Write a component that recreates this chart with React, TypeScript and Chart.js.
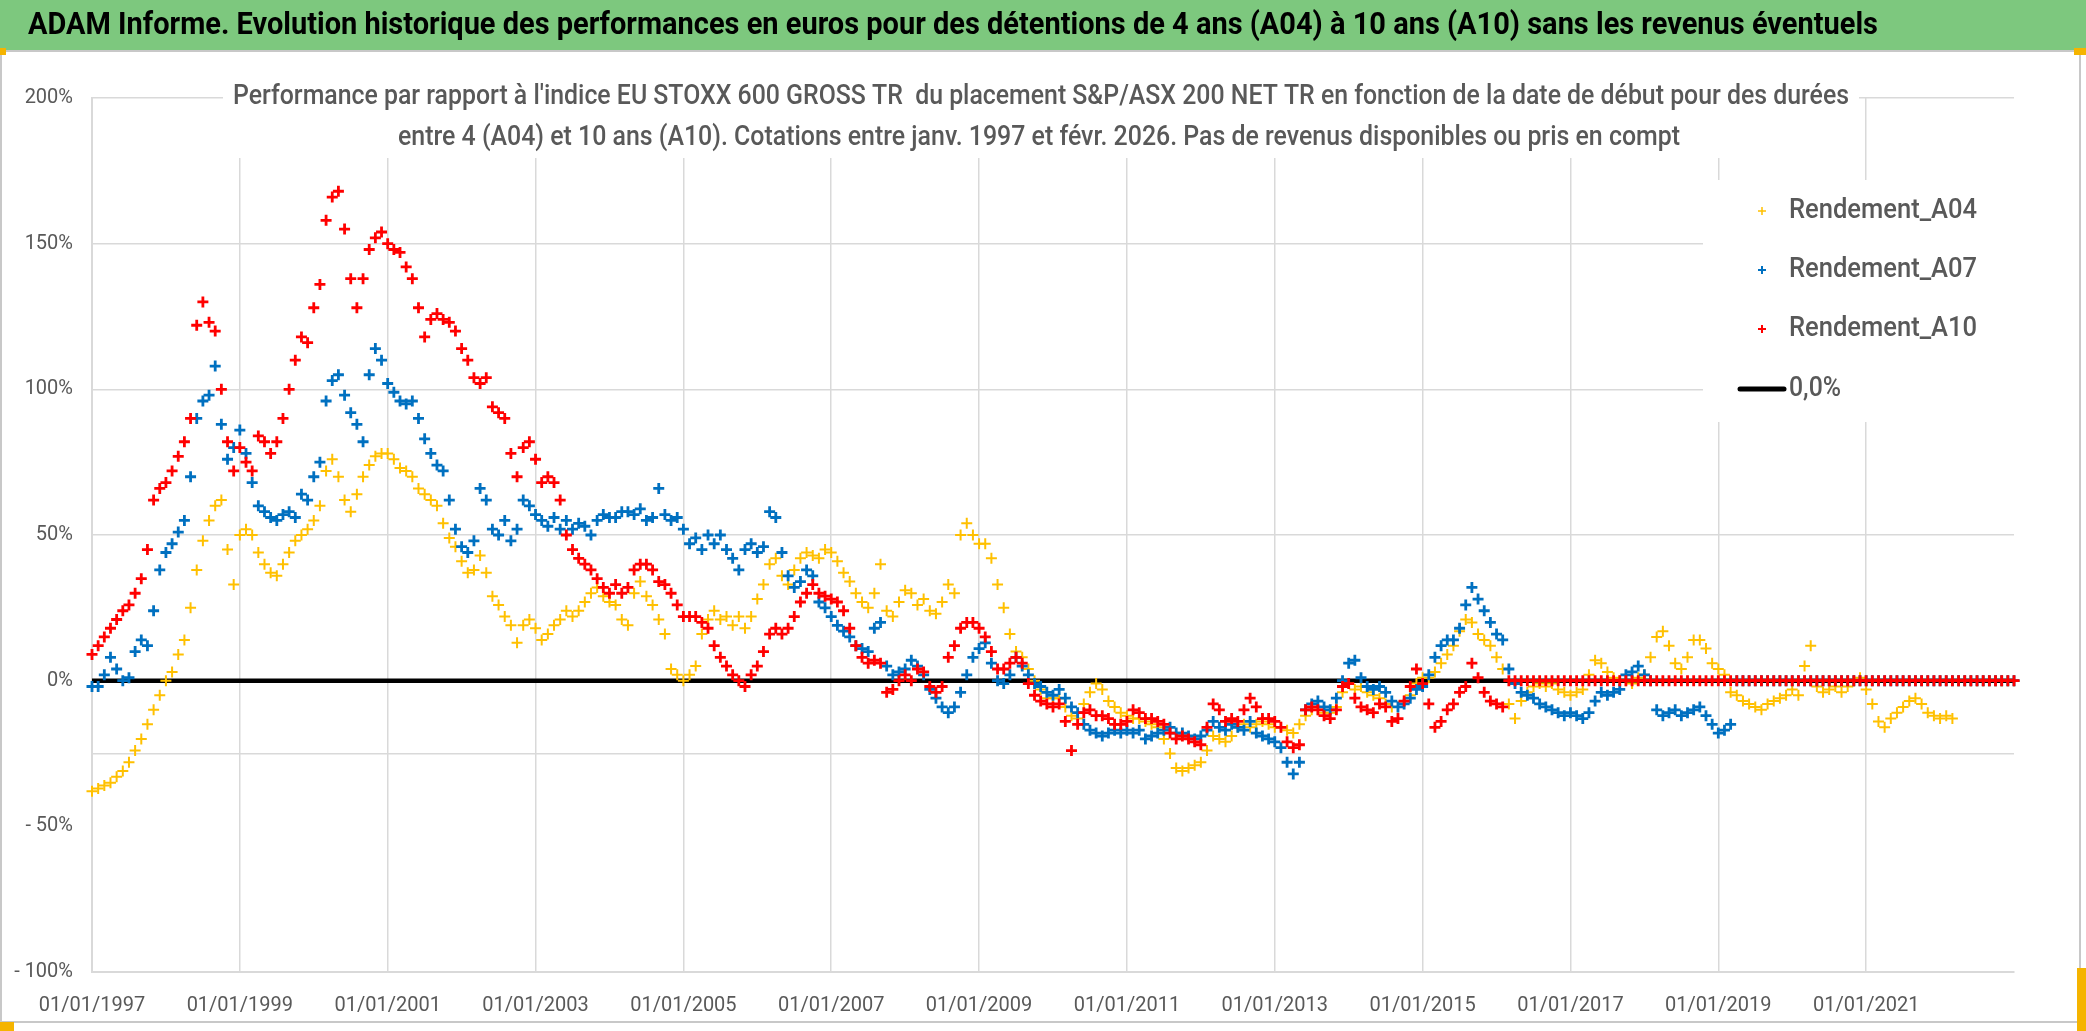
import React, { useEffect, useRef } from 'react';
import { Chart, registerables } from 'chart.js';

Chart.register(...registerables);

// ---- Data (monthly readings, first value = January 1997) ----
const START_YEAR = 1997;
const AXIS_MIN = 1997;
const AXIS_MAX = 2023;
const xTickYears = [1997, 1999, 2001, 2003, 2005, 2007, 2009, 2011, 2013, 2015, 2017, 2019, 2021];
const yTickValues = [200, 150, 100, 50, 0, -25, -50, -100];

const bannerTitle =
  'ADAM Informe. Evolution historique des performances en euros pour des détentions de 4 ans (A04) à 10 ans (A10) sans les revenus éventuels';
const chartTitleLines = [
  "Performance par rapport à l'indice EU STOXX 600 GROSS TR  du placement S&P/ASX 200 NET TR en fonction de la date de début pour des durées",
  'entre 4 (A04) et 10 ans (A10). Cotations entre janv. 1997 et févr. 2026. Pas de revenus disponibles ou pris en compt',
];
const seriesNames = ['Rendement_A04', 'Rendement_A07', 'Rendement_A10', '0,0%'];

const rendementA04 = [
  -38, -37, -36, -35, -33, -31, -28, -24, -20, -15, -10, -5,
  0, 3, 9, 14, 25, 38, 48, 55, 60, 62, 45, 33,
  50, 52, 50, 44, 40, 37, 36, 40, 44, 48, 50, 52,
  55, 60, 72, 76, 70, 62, 58, 64, 70, 74, 77, 78,
  78, 76, 73, 72, 70, 66, 64, 62, 60, 54, 49, 46,
  41, 37, 38, 43, 37, 29, 26, 22, 19, 13, 19, 21,
  18, 14, 16, 19, 21, 24, 22, 24, 27, 30, 32, 29,
  27, 26, 21, 19, 30, 34, 29, 26, 21, 16, 4, 2,
  0, 2, 5, 16, 21, 24, 21, 22, 19, 22, 18, 22,
  28, 33, 40, 42, 36, 33, 38, 42, 44, 43, 42, 45,
  44, 41, 37, 34, 30, 27, 25, 30, 40, 24, 22, 27,
  31, 30, 26, 28, 24, 23, 27, 33, 30, 50, 54, 50,
  47, 47, 42, 33, 25, 16, 10, 8, 4, 0, -3, -6,
  -6, -6, -9, -12, -13, -8, -4, -1, -3, -7, -9, -11,
  -12, -13, -13, -14, -15, -16, -20, -25, -30, -31, -30, -29,
  -28, -24, -19, -20, -21, -19, -16, -15, -16, -15, -14, -15,
  -16, -16, -17, -18, -15, -12, -10, -10, -11, -11, -9, -4,
  -1, -3, -2, -4, -5, -6, -8, -9, -9, -7, -5, -1,
  1, 1, 3, 6, 9, 12, 17, 21, 20, 16, 14, 12,
  8, 4, -8, -13, -7, -4, -2, -1, -2, -1, -3, -4,
  -5, -4, -3, 2, 7, 6, 3, 1, 0, 0, -1, 1,
  2, 8, 15, 17, 12, 6, 4, 8, 14, 14, 11, 6,
  4, 2, -4, -5, -7, -8, -9, -10, -8, -7, -6, -5,
  -3, -5, 5, 12, -2, -4, -3, -2, -4, -2, 0, 1,
  -3, -8, -14, -16, -13, -11, -9, -7, -6, -8, -11, -12,
  -13, -12, -13, 0, 0, 0, 0, 0, 0, 0, 0, 0,
  0,
];

const rendementA07 = [
  -2, -2, 2, 8, 4, 0, 1, 10, 14, 12, 24, 38,
  44, 47, 51, 55, 70, 90, 96, 98, 108, 88, 76, 80,
  86, 78, 68, 60, 58, 56, 55, 57, 58, 56, 64, 62,
  70, 75, 96, 103, 105, 98, 92, 88, 82, 105, 114, 110,
  102, 99, 96, 95, 96, 90, 83, 78, 74, 72, 62, 52,
  46, 44, 48, 66, 62, 52, 50, 55, 48, 52, 62, 60,
  57, 55, 53, 56, 52, 55, 52, 54, 53, 50, 55, 57,
  56, 56, 58, 58, 57, 59, 55, 56, 66, 57, 55, 56,
  52, 47, 49, 45, 50, 47, 50, 45, 42, 38, 45, 47,
  44, 46, 58, 56, 44, 36, 32, 34, 38, 36, 27, 25,
  22, 19, 17, 15, 12, 11, 10, 18, 20, 5, 2, 3,
  4, 7, 5, 2, -3, -6, -9, -11, -9, -4, 2, 8,
  11, 13, 6, 0, -1, 2, 8, 5, 2, -1, -2, -4,
  -5, -3, -6, -9, -11, -15, -17, -18, -19, -18, -17, -18,
  -17, -18, -17, -20, -19, -18, -17, -16, -18, -18, -19, -20,
  -19, -17, -14, -16, -17, -15, -16, -17, -14, -18, -19, -20,
  -21, -23, -28, -32, -28, -10, -8, -7, -9, -10, -6, 0,
  6, 7, 1, -2, -3, -2, -4, -7, -9, -8, -6, -3,
  -2, 2, 8, 12, 14, 14, 18, 26, 32, 28, 24, 20,
  16, 14, 4, -1, -4, -5, -6, -8, -9, -10, -11, -12,
  -11, -12, -13, -11, -7, -4, -5, -4, -3, 2, 3, 5,
  2, 0, -10, -12, -11, -10, -12, -11, -10, -9, -12, -15,
  -18, -17, -15, 0, 0, 0, 0, 0, 0, 0, 0, 0,
  0, 0, 0, 0, 0, 0, 0, 0, 0, 0, 0, 0,
  0, 0, 0, 0, 0, 0, 0, 0, 0, 0, 0, 0,
  0, 0, 0, 0, 0, 0, 0, 0, 0, 0, 0, 0,
  0,
];

const rendementA10 = [
  9, 12, 15, 18, 21, 24, 26, 30, 35, 45, 62, 66,
  68, 72, 77, 82, 90, 122, 130, 123, 120, 100, 82, 72,
  80, 75, 72, 84, 82, 78, 82, 90, 100, 110, 118, 116,
  128, 136, 158, 166, 168, 155, 138, 128, 138, 148, 152, 154,
  150, 148, 147, 142, 138, 128, 118, 124, 126, 124, 123, 120,
  114, 110, 104, 102, 104, 94, 92, 90, 78, 70, 80, 82,
  76, 68, 70, 68, 62, 50, 45, 42, 40, 38, 35, 32,
  30, 33, 30, 32, 38, 40, 40, 38, 34, 33, 30, 26,
  22, 22, 22, 20, 18, 12, 8, 5, 2, 0, -2, 2,
  5, 10, 16, 18, 16, 18, 22, 27, 30, 33, 30, 29,
  28, 27, 24, 18, 12, 8, 6, 7, 6, -4, -3, 0,
  2, 0, 4, 3, -2, -4, -2, 8, 12, 18, 20, 20,
  18, 15, 10, 4, 4, 6, 8, 6, -1, -5, -7, -8,
  -9, -8, -14, -24, -15, -11, -10, -12, -12, -13, -15, -15,
  -14, -10, -11, -13, -13, -14, -15, -18, -20, -19, -20, -21,
  -22, -16, -8, -10, -14, -13, -14, -10, -6, -9, -13, -13,
  -14, -16, -21, -23, -22, -10, -9, -10, -12, -13, -10, -2,
  -1, -6, -9, -10, -11, -8, -9, -14, -13, -7, -2, 4,
  -1, -8, -16, -14, -10, -8, -4, -2, 6, 1, -4, -7,
  -8, -9, 0, 0, 0, 0, 0, 0, 0, 0, 0, 0,
  0, 0, 0, 0, 0, 0, 0, 0, 0, 0, 0, 0,
  0, 0, 0, 0, 0, 0, 0, 0, 0, 0, 0, 0,
  0, 0, 0, 0, 0, 0, 0, 0, 0, 0, 0, 0,
  0, 0, 0, 0, 0, 0, 0, 0, 0, 0, 0, 0,
  0, 0, 0, 0, 0, 0, 0, 0, 0, 0, 0, 0,
  0, 0, 0, 0, 0, 0, 0, 0, 0, 0, 0, 0,
  0,
];

const zeroLineDates = [1997, 2023];
const zeroLineValues = [0, 0];

// ---- Styles ----
const COLORS = { a04: '#FFC000', a07: '#0070C0', a10: '#FF0000', zero: '#000000' };
const TEXT_GREY = '#595959';
const GRID_GREY = '#D9D9D9';
const FONT = 'Roboto';

function monthly(values: number[]) {
  return values.map((v, i) => ({ x: START_YEAR + i / 12, y: v }));
}

function fmtPct(v: number) {
  return v < 0 ? '- ' + Math.abs(v) + '%' : v + '%';
}

function drawFitted(
  ctx: CanvasRenderingContext2D,
  text: string,
  x: number,
  y: number,
  font: string,
  targetW: number,
  align: CanvasTextAlign,
  color: string
) {
  ctx.save();
  ctx.font = font;
  const w = ctx.measureText(text).width;
  const sx = w > 0 ? targetW / w : 1;
  ctx.translate(x, y);
  ctx.scale(sx, 1);
  ctx.textAlign = align;
  ctx.textBaseline = 'middle';
  ctx.fillStyle = color;
  ctx.fillText(text, 0, 0);
  ctx.restore();
}

function drawPlus(ctx: CanvasRenderingContext2D, x: number, y: number, r: number, color: string, lw: number) {
  ctx.save();
  ctx.strokeStyle = color;
  ctx.lineWidth = lw;
  ctx.beginPath();
  ctx.moveTo(x - r, y);
  ctx.lineTo(x + r, y);
  ctx.moveTo(x, y - r);
  ctx.lineTo(x, y + r);
  ctx.stroke();
  ctx.restore();
}

const decorPlugin = {
  id: 'decor',
  beforeDraw(chart: any) {
    const ctx: CanvasRenderingContext2D = chart.ctx;
    const W = chart.width;
    const H = chart.height;
    ctx.save();
    ctx.fillStyle = '#FFFFFF';
    ctx.fillRect(0, 0, W, H);
    // outer frame
    ctx.strokeStyle = '#C8C8C8';
    ctx.lineWidth = 2;
    ctx.strokeRect(1, 51, 2079, 971);
    // green banner
    ctx.fillStyle = '#7DC87E';
    ctx.fillRect(0, 0, W, 50);
    // selection handles
    ctx.fillStyle = '#F5B400';
    ctx.fillRect(0, 48, 6, 7);
    ctx.fillRect(2074, 48, 12, 7);
    ctx.fillRect(0, 1022, 14, 9);
    ctx.fillRect(2077, 968, 9, 63);
    ctx.restore();
    drawFitted(ctx, bannerTitle, 28, 26, 'bold 31px ' + FONT, 1850, 'left', '#000000');
  },
  beforeDatasetsDraw(chart: any) {
    const ctx: CanvasRenderingContext2D = chart.ctx;
    const area = chart.chartArea;
    ctx.save();
    ctx.fillStyle = '#FFFFFF';
    // title box and legend box cover the gridlines
    ctx.fillRect(223, 78, 1636, 80);
    ctx.fillRect(1703, 180, area.right - 1703, 242);
    ctx.restore();
    drawFitted(ctx, chartTitleLines[0], 1041, 97, '500 28px ' + FONT, 1616, 'center', TEXT_GREY);
    drawFitted(ctx, chartTitleLines[1], 1039, 138, '500 28px ' + FONT, 1282, 'center', TEXT_GREY);
  },
  afterDraw(chart: any) {
    const ctx: CanvasRenderingContext2D = chart.ctx;
    const rows = [211, 270, 329, 389];
    const cols = [COLORS.a04, COLORS.a07, COLORS.a10];
    for (let i = 0; i < 3; i++) {
      drawPlus(ctx, 1762, rows[i], 4, cols[i], i === 0 ? 1.5 : 2);
      drawFitted(ctx, seriesNames[i], 1789, rows[i], '500 28px ' + FONT, 188, 'left', TEXT_GREY);
    }
    ctx.save();
    ctx.strokeStyle = '#000000';
    ctx.lineWidth = 5;
    ctx.lineCap = 'round';
    ctx.beginPath();
    ctx.moveTo(1740, rows[3]);
    ctx.lineTo(1784, rows[3]);
    ctx.stroke();
    ctx.restore();
    drawFitted(ctx, seriesNames[3], 1789, rows[3], '500 28px ' + FONT, 52, 'left', TEXT_GREY);
  },
};

export default function App() {
  const canvasRef = useRef<HTMLCanvasElement | null>(null);

  useEffect(() => {
    if (!canvasRef.current) return;
    const markerBase = {
      type: 'scatter' as const,
      showLine: false,
      pointStyle: 'cross' as const,
      pointRadius: 5.5,
      pointHoverRadius: 5.5,
      clip: 12,
    };
    const chart = new Chart(canvasRef.current, {
      type: 'scatter',
      data: {
        datasets: [
          {
            ...markerBase,
            label: seriesNames[0],
            data: monthly(rendementA04),
            borderColor: COLORS.a04,
            backgroundColor: COLORS.a04,
            pointBorderWidth: 2,
            order: 3,
          },
          {
            ...markerBase,
            label: seriesNames[1],
            data: monthly(rendementA07),
            borderColor: COLORS.a07,
            backgroundColor: COLORS.a07,
            pointBorderWidth: 2.8,
            order: 2,
          },
          {
            ...markerBase,
            label: seriesNames[2],
            data: monthly(rendementA10),
            borderColor: COLORS.a10,
            backgroundColor: COLORS.a10,
            pointBorderWidth: 2.8,
            order: 1,
          },
          {
            type: 'scatter',
            label: seriesNames[3],
            data: zeroLineDates.map((d, i) => ({ x: d, y: zeroLineValues[i] })),
            showLine: true,
            borderColor: COLORS.zero,
            backgroundColor: COLORS.zero,
            borderWidth: 4.5,
            pointRadius: 0,
            order: 10,
          } as any,
        ],
      },
      options: {
        responsive: false,
        animation: false,
        events: [],
        layout: { padding: { top: 98, right: 72, left: 0, bottom: 0 } },
        plugins: {
          legend: { display: false },
          title: { display: false },
          tooltip: { enabled: false },
        },
        scales: {
          x: {
            type: 'linear',
            min: AXIS_MIN,
            max: AXIS_MAX,
            afterBuildTicks: (s: any) => {
              s.ticks = xTickYears.map((v) => ({ value: v }));
            },
            afterFit: (s: any) => {
              s.height = 59;
            },
            ticks: {
              autoSkip: false,
              maxRotation: 0,
              minRotation: 0,
              padding: 22,
              color: TEXT_GREY,
              font: { family: FONT, size: 20 },
              callback: (v: any) => '01/01/' + v,
            },
            grid: { color: GRID_GREY, lineWidth: 1.5, drawTicks: false },
            border: { color: GRID_GREY, width: 2 },
          },
          y: {
            type: 'linear',
            min: -100,
            max: 200,
            afterBuildTicks: (s: any) => {
              s.ticks = yTickValues.map((v) => ({ value: v }));
            },
            afterFit: (s: any) => {
              s.width = 92;
            },
            ticks: {
              padding: 19,
              color: TEXT_GREY,
              font: { family: FONT, size: 20 },
              callback: (v: any) => (v === -25 ? '' : fmtPct(v)),
            },
            grid: {
              color: (c: any) => (c.tick && c.tick.value === -50 ? 'rgba(0,0,0,0)' : GRID_GREY),
              lineWidth: 1.5,
              drawTicks: false,
            },
            border: { color: GRID_GREY, width: 2 },
          },
        },
      },
      plugins: [decorPlugin],
    } as any);
    return () => chart.destroy();
  }, []);

  return (
    <div style={{ position: 'absolute', left: 0, top: 0, width: 2086, height: 1031, background: '#fff' }}>
      <canvas ref={canvasRef} width={2086} height={1031} style={{ width: 2086, height: 1031, display: 'block' }} />
    </div>
  );
}
